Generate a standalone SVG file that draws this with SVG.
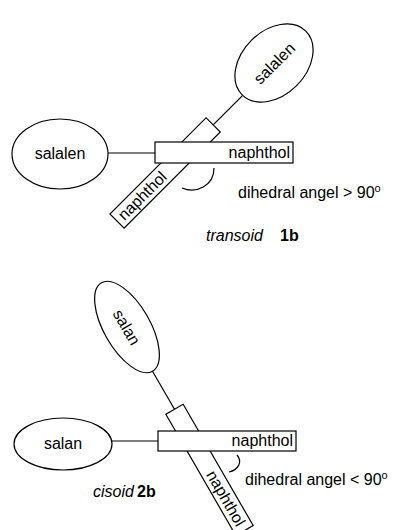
<svg xmlns="http://www.w3.org/2000/svg" width="395" height="530" viewBox="0 0 395 530">
  <style>
    .ln { stroke: #000; stroke-width: 1.2; fill: none; }
    .shape { fill: #fff; stroke: #000; stroke-width: 1.2; }
    .lbl { font-family: "Liberation Sans", Arial, Helvetica, sans-serif; font-size: 16px; fill: #000; }
    .it { font-style: italic; }
    .bd { font-weight: bold; }
    .mid { text-anchor: middle; }
    .end { text-anchor: end; }
  </style>

  <!-- transoid 1b -->
  <g id="connectors-1b">
    <line class="ln" x1="108" y1="153" x2="155" y2="153"/>
    <line class="ln" x1="213.2" y1="124.8" x2="242.2" y2="95.8"/>
    <path class="ln" d="M214,168 C214,186 196,194 182,188"/>
  </g>
  <g id="salalen-left">
    <ellipse class="shape" cx="60" cy="154" rx="48" ry="35"/>
    <text class="lbl mid" x="60" y="159">salalen</text>
  </g>
  <g id="salalen-upper" transform="translate(274,63) rotate(-45)">
    <ellipse class="shape" cx="0" cy="0" rx="45" ry="32"/>
    <text class="lbl mid" x="0" y="6">salalen</text>
  </g>
  <g id="naphthol-diagonal-1b" transform="translate(117,221) rotate(-45)">
    <rect class="shape" x="0" y="-10" width="136" height="20"/>
    <text class="lbl" x="5" y="5.5">naphthol</text>
  </g>
  <g id="naphthol-horizontal-1b">
    <rect class="shape" x="155" y="142" width="138" height="21"/>
    <text class="lbl end" x="290" y="158">naphthol</text>
  </g>
  <g id="caption-1b">
    <text class="lbl" x="238" y="198">dihedral angel &gt; 90<tspan font-size="11" dy="-6">o</tspan></text>
    <text class="lbl it" x="206" y="241">transoid</text>
    <text class="lbl bd" x="280" y="241">1b</text>
  </g>

  <!-- cisoid 2b -->
  <g id="connectors-2b">
    <line class="ln" x1="112" y1="441" x2="158" y2="441"/>
    <line class="ln" x1="152.5" y1="371.2" x2="174.5" y2="409.3"/>
    <path class="ln" d="M237,455 C243,462 238,470 229,472"/>
  </g>
  <g id="salan-left">
    <ellipse class="shape" cx="63" cy="444" rx="49" ry="26"/>
    <text class="lbl mid" x="63" y="449">salan</text>
  </g>
  <g id="salan-upper" transform="translate(127,327) rotate(60)">
    <ellipse class="shape" cx="0" cy="0" rx="51" ry="23"/>
    <text class="lbl mid" x="0" y="6">salan</text>
  </g>
  <g id="naphthol-diagonal-2b" transform="translate(174.5,409.3) rotate(60)">
    <rect class="shape" x="0" y="-10" width="140" height="20"/>
    <text class="lbl" x="72" y="5.5">naphthol</text>
  </g>
  <g id="naphthol-horizontal-2b">
    <rect class="shape" x="158" y="431" width="138" height="20"/>
    <text class="lbl end" x="293" y="446">naphthol</text>
  </g>
  <g id="caption-2b">
    <text class="lbl" x="245" y="485">dihedral angel &lt; 90<tspan font-size="11" dy="-6">o</tspan></text>
    <text class="lbl it" x="93" y="497">cisoid</text>
    <text class="lbl bd" x="137" y="497">2b</text>
  </g>
</svg>
